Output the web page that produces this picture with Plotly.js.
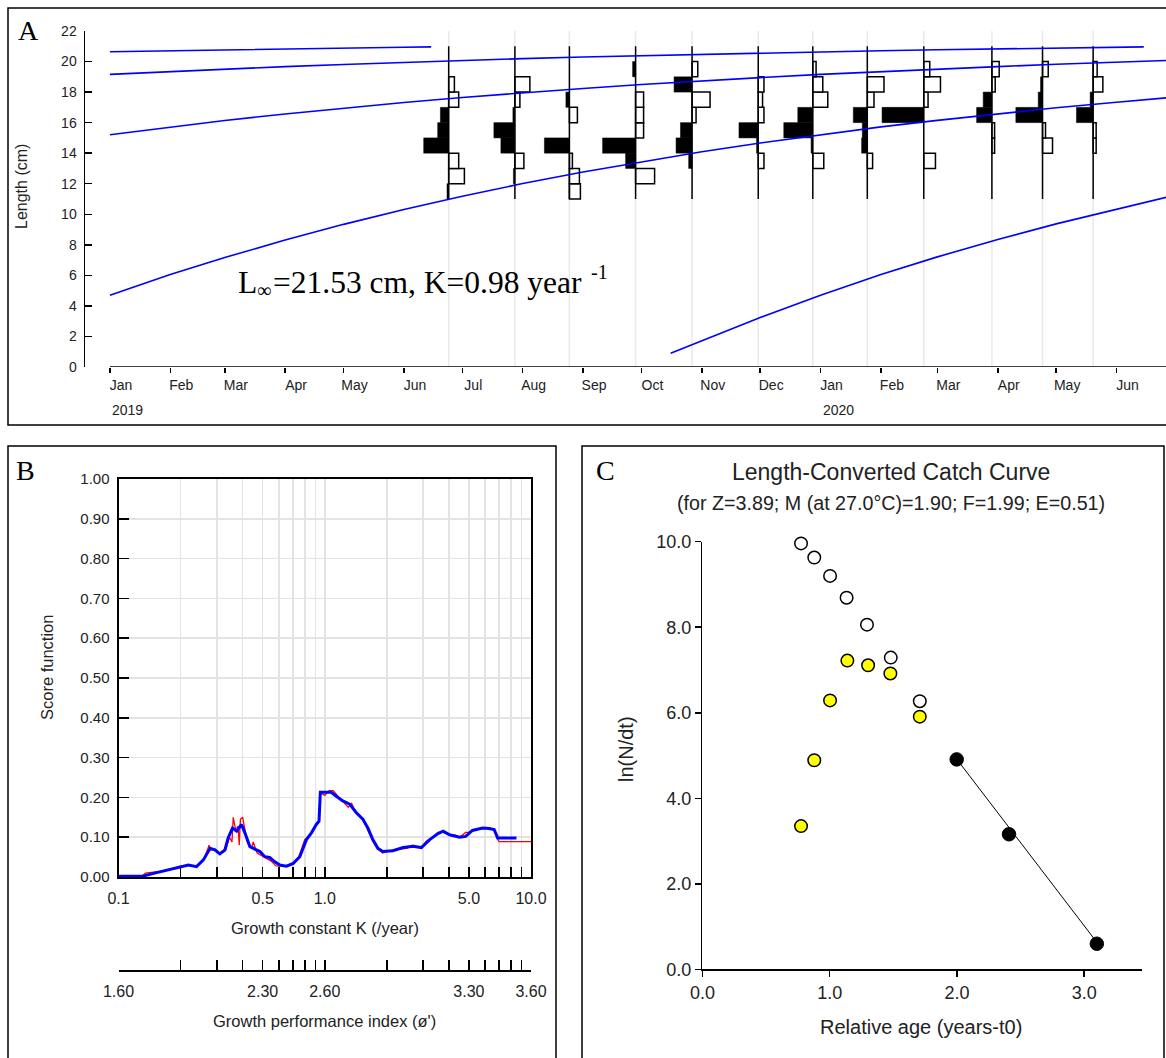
<!DOCTYPE html>
<html><head><meta charset="utf-8">
<script src="https://cdn.plot.ly/plotly-3.0.1.min.js"></script>
<style>html,body{margin:0;padding:0;background:#fff;}#chart{width:1166px;height:1058px;}</style>
</head><body><div id="chart"></div>
<script>
// ================= Panel A data =================
const sampleDates = ['2019-06-24','2019-07-28','2019-08-25','2019-09-28','2019-10-27','2019-11-30',
                     '2019-12-28','2020-01-25','2020-02-23','2020-03-29','2020-04-24','2020-05-20'];
const binLower = [11,12,13,14,15,16,17,18,19,20];
// restructured scores per sample, bins 11-12 ... 20-21 (positive = peak/black, negative = trough/white)
const restructuredScores = [
  [0.17,-1.57,-1.00, 2.50, 1.10, 0.83,-1.00,-0.57, 0.00, 0],
  [0.00, 0.15,-0.90, 1.40, 2.10, 0.20,-0.50,-1.50, 0.00, 0],
  [-1.10,-1.00,-0.30, 2.50, 0.00,-0.80, 0.35, 0.00, 0.00, 0],
  [0.00,-1.90, 1.00, 3.30,-0.80,-0.80,-0.80, 0.00, 0.30, 0],
  [0.00, 0.00, 0.34, 1.60, 1.16,-0.40,-1.80, 1.80,-0.57, 0],
  [0.00, 0.00,-0.57, 0.17, 1.93,-0.57,-0.43,-0.57, 0.00, 0],
  [0.00, 0.00,-1.10, 0.17, 2.90, 1.50,-1.50,-1.00,-0.33, 0],
  [0.00, 0.00,-0.53, 0.57, 0.50, 1.40,-0.67,-1.67, 0.00, 0],
  [0.00, 0.00,-1.17, 0.00, 0.00, 4.17,-0.43,-1.67,-0.60, 0],
  [0.00, 0.00, 0.00,-0.27,-0.27, 1.53, 0.87,-0.33,-0.73, 0],
  [0.00, 0.00, 0.00,-1.00,-0.30, 2.67, 0.43, 0.20,-0.57, 0],
  [0.00, 0.00, 0.00,-0.30,-0.30, 1.67, 0.30,-0.97,-0.40, 0]
];
const monthTicks = ['2019-01-01','2019-02-01','2019-03-01','2019-04-01','2019-05-01','2019-06-01',
  '2019-07-01','2019-08-01','2019-09-01','2019-10-01','2019-11-01','2019-12-01',
  '2020-01-01','2020-02-01','2020-03-01','2020-04-01','2020-05-01','2020-06-01'];
const monthLabels = ['Jan','Feb','Mar','Apr','May','Jun','Jul','Aug','Sep','Oct','Nov','Dec',
  'Jan','Feb','Mar','Apr','May','Jun'];
const yearLabels = ['2019','2020'];
const yearStarts = ['2019-01-01','2020-01-01'];
// growth curves (Linf = 21.53 cm, K = 0.98 /yr), lengths read at month starts
const cohortA_dates = ['2019-01-01','2019-02-01','2019-03-01','2019-04-01','2019-05-01','2019-06-01','2019-06-15'];
const cohortA_len   = [20.64,20.71,20.77,20.83,20.88,20.94,20.96];
const cohortB_dates = monthTicks.concat(['2020-06-15']);
const cohortB_len   = [19.16,19.35,19.51,19.67,19.81,19.95,20.07,20.19,20.30,20.39,20.48,20.56,20.64,20.71,20.77,20.83,20.89,20.94,20.96];
const cohortC_dates = monthTicks.concat(['2020-06-27']);
const cohortC_len   = [15.21,15.72,16.14,16.57,16.96,17.32,17.65,17.96,18.24,18.50,18.74,18.95,19.16,19.35,19.51,19.67,19.82,19.95,20.07];
const cohortD_dates = monthTicks.concat(['2020-06-27']);
const cohortD_len   = [4.70,6.05,7.17,8.31,9.34,10.31,11.18,12.01,12.77,13.44,14.09,14.67,15.21,15.72,16.15,16.59,16.97,17.33,17.63];
const cohortE_dates = ['2019-10-16','2019-11-01','2019-12-01','2020-01-01','2020-02-01','2020-03-01','2020-04-01','2020-05-01','2020-06-01','2020-06-27'];
const cohortE_len   = [0.90,1.71,3.24,4.70,6.05,7.21,8.35,9.37,10.34,11.12];

// ================= Panel B data =================
const kBlue = [0.1,0.131,0.148,0.171,0.196,0.218,0.239,0.258,0.278,0.293,0.310,0.328,0.340,0.357,0.374,0.395,0.410,0.433,0.458,0.485,
  0.512,0.541,0.573,0.605,0.652,0.703,0.757,0.815,0.862,0.910,0.938,0.952,1.02,1.076,1.137,1.224,1.32,1.42,1.53,1.62,
  1.71,1.81,1.91,2.14,2.40,2.68,2.94,3.23,3.54,3.75,4.03,4.51,4.82,5.20,5.82,6.25,6.63,6.9,7.3,8.5];
const scoreBlue = [0.002,0.002,0.009,0.017,0.026,0.030,0.026,0.043,0.072,0.068,0.058,0.068,0.098,0.123,0.115,0.132,0.111,0.077,0.070,0.064,
  0.051,0.049,0.038,0.030,0.027,0.034,0.051,0.094,0.111,0.132,0.140,0.213,0.213,0.213,0.203,0.191,0.183,0.162,0.145,0.123,
  0.094,0.072,0.064,0.066,0.074,0.077,0.074,0.094,0.109,0.115,0.106,0.100,0.102,0.117,0.123,0.122,0.119,0.098,0.098,0.098];
const kRed = [0.1,0.13,0.135,0.17,0.2,0.22,0.24,0.26,0.275,0.28,0.295,0.31,0.33,0.345,0.355,0.36,0.37,0.38,0.385,0.39,
  0.40,0.41,0.42,0.44,0.45,0.47,0.49,0.52,0.55,0.58,0.61,0.65,0.70,0.75,0.80,0.85,0.90,0.94,0.95,1.0,
  1.05,1.10,1.15,1.2,1.25,1.3,1.35,1.42,1.53,1.62,1.71,1.81,1.91,2.0,2.14,2.3,2.5,2.68,2.94,3.1,
  3.3,3.54,3.75,4.03,4.3,4.51,4.82,5.0,5.2,5.5,5.82,6.25,6.63,6.8,7.0,10];
const scoreRed = [0.002,0.002,0.010,0.016,0.027,0.030,0.027,0.045,0.080,0.068,0.070,0.058,0.066,0.100,0.088,0.150,0.118,0.128,0.080,0.145,
  0.150,0.115,0.090,0.072,0.088,0.060,0.055,0.048,0.040,0.028,0.028,0.027,0.034,0.052,0.094,0.105,0.130,0.140,0.212,0.205,
  0.217,0.217,0.205,0.195,0.185,0.175,0.185,0.160,0.145,0.118,0.090,0.070,0.060,0.064,0.068,0.070,0.072,0.080,0.072,0.090,
  0.098,0.112,0.112,0.105,0.105,0.100,0.112,0.112,0.117,0.120,0.122,0.124,0.119,0.100,0.089,0.089];
const kLabelTicks = [0.1,0.5,1,5,10];
const kTickText = ['0.1','0.5','1.0','5.0','10.0'];
const phiTickText = ['1.60','2.30','2.60','3.30','3.60'];
const kMinorTicks = [0.2,0.3,0.4,0.6,0.7,0.8,0.9,2,3,4,6,7,8,9];
const scoreTicks = [0,0.1,0.2,0.3,0.4,0.5,0.6,0.7,0.8,0.9,1.0];

// ================= Panel C data =================
const ageOpen = [0.775,0.879,1.003,1.133,1.293,1.480,1.708];
const lnOpen  = [9.96,9.63,9.20,8.69,8.06,7.29,6.27];
const ageYellow = [0.775,0.879,1.003,1.139,1.302,1.477,1.708];
const lnYellow  = [3.35,4.89,6.29,7.22,7.11,6.92,5.91];
const ageUsed = [1.998,2.409,3.099];
const lnUsed  = [4.91,3.16,0.60];
const fitAge = [2.0,3.1];
const fitLn  = [4.91,0.63];

// ================= layout helpers =================
const W = 1166, H = 1058;
const PX = v => v / W, PY = v => 1 - v / H;
const SANS = 'Liberation Sans, Arial, sans-serif';
const SERIF = 'Liberation Serif, Times New Roman, serif';
const TXT = '#222';
const MS_PER_UNIT = 5.136 * 86400000; // bar length scale (time units per score unit)

// ---- bars from restructured scores
const wx=[],wy=[],wb=[],bx=[],by=[],bb=[];
restructuredScores.forEach((row,i)=>{
  row.forEach((v,j)=>{
    if (v>0){ bx.push(-v*MS_PER_UNIT); by.push(binLower[j]+0.5); bb.push(sampleDates[i]); }
    else if (v<0){ wx.push(-v*MS_PER_UNIT); wy.push(binLower[j]+0.5); wb.push(sampleDates[i]); }
  });
});
const baseX=[],baseY=[];
sampleDates.forEach(d=>{ baseX.push(d,d,null); baseY.push(binLower[0], binLower[binLower.length-1]+1, null); });

const curveStyle = {color:'#0000ff', width:1.6};
const traces = [
  {type:'bar',orientation:'h',x:wx,y:wy,base:wb,width:1,marker:{color:'#ffffff',line:{color:'#000',width:1.5}},xaxis:'x',yaxis:'y',hoverinfo:'skip'},
  {type:'bar',orientation:'h',x:bx,y:by,base:bb,width:1,marker:{color:'#000000',line:{color:'#000',width:0.5}},xaxis:'x',yaxis:'y',hoverinfo:'skip'},
  {type:'scatter',mode:'lines',x:baseX,y:baseY,line:{color:'#000',width:1.5},xaxis:'x',yaxis:'y',hoverinfo:'skip'},
  {type:'scatter',mode:'lines',x:cohortA_dates,y:cohortA_len,line:curveStyle,xaxis:'x',yaxis:'y'},
  {type:'scatter',mode:'lines',x:cohortB_dates,y:cohortB_len,line:curveStyle,xaxis:'x',yaxis:'y'},
  {type:'scatter',mode:'lines',x:cohortC_dates,y:cohortC_len,line:curveStyle,xaxis:'x',yaxis:'y'},
  {type:'scatter',mode:'lines',x:cohortD_dates,y:cohortD_len,line:curveStyle,xaxis:'x',yaxis:'y'},
  {type:'scatter',mode:'lines',x:cohortE_dates,y:cohortE_len,line:curveStyle,xaxis:'x',yaxis:'y'},
  // Panel B
  {type:'scatter',mode:'lines',x:kRed,y:scoreRed,line:{color:'#ff0000',width:1.3},xaxis:'x2',yaxis:'y2'},
  {type:'scatter',mode:'lines',x:kBlue,y:scoreBlue,line:{color:'#0000ff',width:3},xaxis:'x2',yaxis:'y2'},
  {type:'scatter',mode:'markers',x:[1],y:[-1],marker:{size:1,opacity:0},xaxis:'x3',yaxis:'y3',hoverinfo:'skip'},
  // Panel C
  {type:'scatter',mode:'lines',x:fitAge,y:fitLn,line:{color:'#000',width:1},xaxis:'x4',yaxis:'y4'},
  {type:'scatter',mode:'markers',x:ageOpen,y:lnOpen,marker:{symbol:'circle',size:12.5,color:'#fff',line:{color:'#000',width:1.5}},cliponaxis:false,xaxis:'x4',yaxis:'y4'},
  {type:'scatter',mode:'markers',x:ageYellow,y:lnYellow,marker:{symbol:'circle',size:12.5,color:'#ffff00',line:{color:'#000',width:1.5}},cliponaxis:false,xaxis:'x4',yaxis:'y4'},
  {type:'scatter',mode:'markers',x:ageUsed,y:lnUsed,marker:{symbol:'circle',size:13.5,color:'#000',line:{color:'#000',width:1}},cliponaxis:false,xaxis:'x4',yaxis:'y4'}
];

const shapes = [];
sampleDates.forEach(d=>shapes.push({type:'line',xref:'x',yref:'y',x0:d,x1:d,y0:0,y1:22,layer:'below',line:{color:'#e9e9e9',width:1.5}}));
shapes.push({type:'line',xref:'x',yref:'y',x0:monthTicks[0],x1:'2020-06-27',y0:0,y1:0,line:{color:'#000',width:1.5}});
// panel frames
shapes.push({type:'rect',xref:'paper',yref:'paper',x0:PX(8),x1:1.05,y0:PY(425),y1:PY(8),line:{color:'#000',width:1.5}});
shapes.push({type:'rect',xref:'paper',yref:'paper',x0:PX(8),x1:PX(556),y0:-0.05,y1:PY(446),line:{color:'#000',width:1.5}});
shapes.push({type:'rect',xref:'paper',yref:'paper',x0:PX(582),x1:PX(1164),y0:-0.05,y1:PY(446),line:{color:'#000',width:1.5}});

const ann = (text,x,y,size,font,extra) => Object.assign({text:text,xref:'paper',yref:'paper',x:PX(x),y:PY(y),showarrow:false,
  font:{family:font||SANS,size:size,color:TXT},xanchor:'center',yanchor:'middle'},extra||{});
const serifAnn = (text,x,y,size) => ann(text,x,y,size,SERIF,{xanchor:'left',font:{family:SERIF,size:size,color:'#000'}});
const annotations = [
  ann('A',28,30,28,SERIF,{font:{family:SERIF,size:28,color:'#000'}}),
  // growth parameter label: L∞=21.53 cm, K=0.98 year -1 (subscript / superscript set as smaller texts)
  serifAnn('L',236,282,31.5),
  serifAnn('∞',255,290,20),
  serifAnn('=21.53 cm, K=0.98 year',271,282,31.5),
  serifAnn('-1',589,272,20),
  ann('Length (cm)',21,187,16,SANS,{textangle:-90}),
  {text:yearLabels[0],xref:'x',yref:'paper',x:yearStarts[0],y:PY(410),xanchor:'left',yanchor:'middle',showarrow:false,font:{family:SANS,size:14,color:TXT}},
  {text:yearLabels[1],xref:'x',yref:'paper',x:yearStarts[1],y:PY(410),xanchor:'left',yanchor:'middle',showarrow:false,font:{family:SANS,size:14,color:TXT}},
  ann('B',25,470,28,SERIF,{font:{family:SERIF,size:28,color:'#000'}}),
  ann('Score function',47,668,16.5,SANS,{textangle:-90}),
  ann('Growth constant K (/year)',325,928,16.5),
  ann('Growth performance index (ø\')',325,1021,16.5),
  ann('C',605,471,28,SERIF,{font:{family:SERIF,size:28,color:'#000'}}),
  ann('Length-Converted Catch Curve',891,472,23),
  ann('(for Z=3.89; M (at 27.0°C)=1.90; F=1.99; E=0.51)',891,503,19.7),
  ann('ln(N/dt)',626,749,20,SANS,{textangle:-90}),
  ann('Relative age (years-t0)',921,1027,20)
];

const baseAxis = {showgrid:false,zeroline:false,tickcolor:'#000',linecolor:'#000',fixedrange:true};
const minorK = {tickmode:'array',tickvals:kMinorTicks,ticks:'inside',ticklen:10,tickwidth:1.5,tickcolor:'#000'};
const layout = {
  width:W,height:H,margin:{l:0,r:0,t:0,b:0},paper_bgcolor:'#fff',plot_bgcolor:'rgba(0,0,0,0)',
  showlegend:false,barmode:'overlay',font:{family:SANS,color:TXT},
  xaxis:Object.assign({},baseAxis,{type:'date',domain:[PX(85),1],range:['2018-12-19 05:00','2020-06-26 10:00'],anchor:'y',
    showline:false,ticks:'outside',ticklen:5,tickwidth:1.5,tickmode:'array',tickvals:monthTicks,ticktext:monthLabels,
    tickfont:{family:SANS,size:14,color:TXT},ticklabelshift:11}),
  yaxis:Object.assign({},baseAxis,{domain:[PY(367),PY(31)],range:[0,22],anchor:'x',showline:true,linewidth:1.5,
    ticks:'inside',ticklen:7,tickwidth:1.5,tickmode:'array',tickvals:[0,2,4,6,8,10,12,14,16,18,20,22],
    tickfont:{family:SANS,size:14,color:TXT},ticklabelstandoff:4}),
  xaxis2:Object.assign({},baseAxis,{type:'log',domain:[PX(118.5),PX(531)],range:[-1,1],anchor:'y2',showline:true,mirror:true,linewidth:2,
    showgrid:true,gridcolor:'#e3e3e3',gridwidth:1.5,ticks:'inside',ticklen:10,tickwidth:1.5,tickmode:'array',tickvals:kLabelTicks,ticktext:kTickText,
    minor:Object.assign({},minorK,{showgrid:true,gridcolor:'#e3e3e3',gridwidth:1.5}),
    tickfont:{family:SANS,size:16,color:TXT},ticklabelstandoff:6}),
  yaxis2:Object.assign({},baseAxis,{domain:[PY(877),PY(479)],range:[0,1],anchor:'x2',showline:true,mirror:true,linewidth:2,
    showgrid:true,gridcolor:'#e3e3e3',gridwidth:1.5,ticks:'inside',ticklen:10,tickwidth:1.5,tickmode:'array',tickvals:scoreTicks,
    tickformat:'.2f',tickfont:{family:SANS,size:15,color:TXT},ticklabelstandoff:4}),
  xaxis3:Object.assign({},baseAxis,{type:'log',domain:[PX(118.5),PX(531)],range:[-1,1],anchor:'y3',showline:true,linewidth:1.5,
    ticks:'inside',ticklen:10,tickwidth:1.5,tickmode:'array',tickvals:kLabelTicks,ticktext:phiTickText,
    minor:Object.assign({},minorK,{showgrid:false}),
    tickfont:{family:SANS,size:16,color:TXT},ticklabelstandoff:6}),
  yaxis3:Object.assign({},baseAxis,{domain:[PY(970),PY(955)],range:[0,1],anchor:'x3',visible:false}),
  xaxis4:Object.assign({},baseAxis,{domain:[PX(702.4),PX(1141.5)],range:[0,3.45],anchor:'y4',showline:true,linewidth:1.5,
    ticks:'outside',ticklen:6,tickwidth:1.5,tickmode:'array',tickvals:[0,1,2,3],tickformat:'.1f',
    tickfont:{family:SANS,size:18,color:TXT}}),
  yaxis4:Object.assign({},baseAxis,{domain:[PY(969.4),PY(541.7)],range:[0,10],anchor:'x4',showline:true,linewidth:1.5,
    ticks:'outside',ticklen:6,tickwidth:1.5,tickmode:'array',tickvals:[0,2,4,6,8,10],tickformat:'.1f',
    tickfont:{family:SANS,size:18,color:TXT}}),
  shapes:shapes,annotations:annotations
};
Plotly.newPlot('chart',traces,layout,{displayModeBar:false,staticPlot:true});
</script></body></html>
